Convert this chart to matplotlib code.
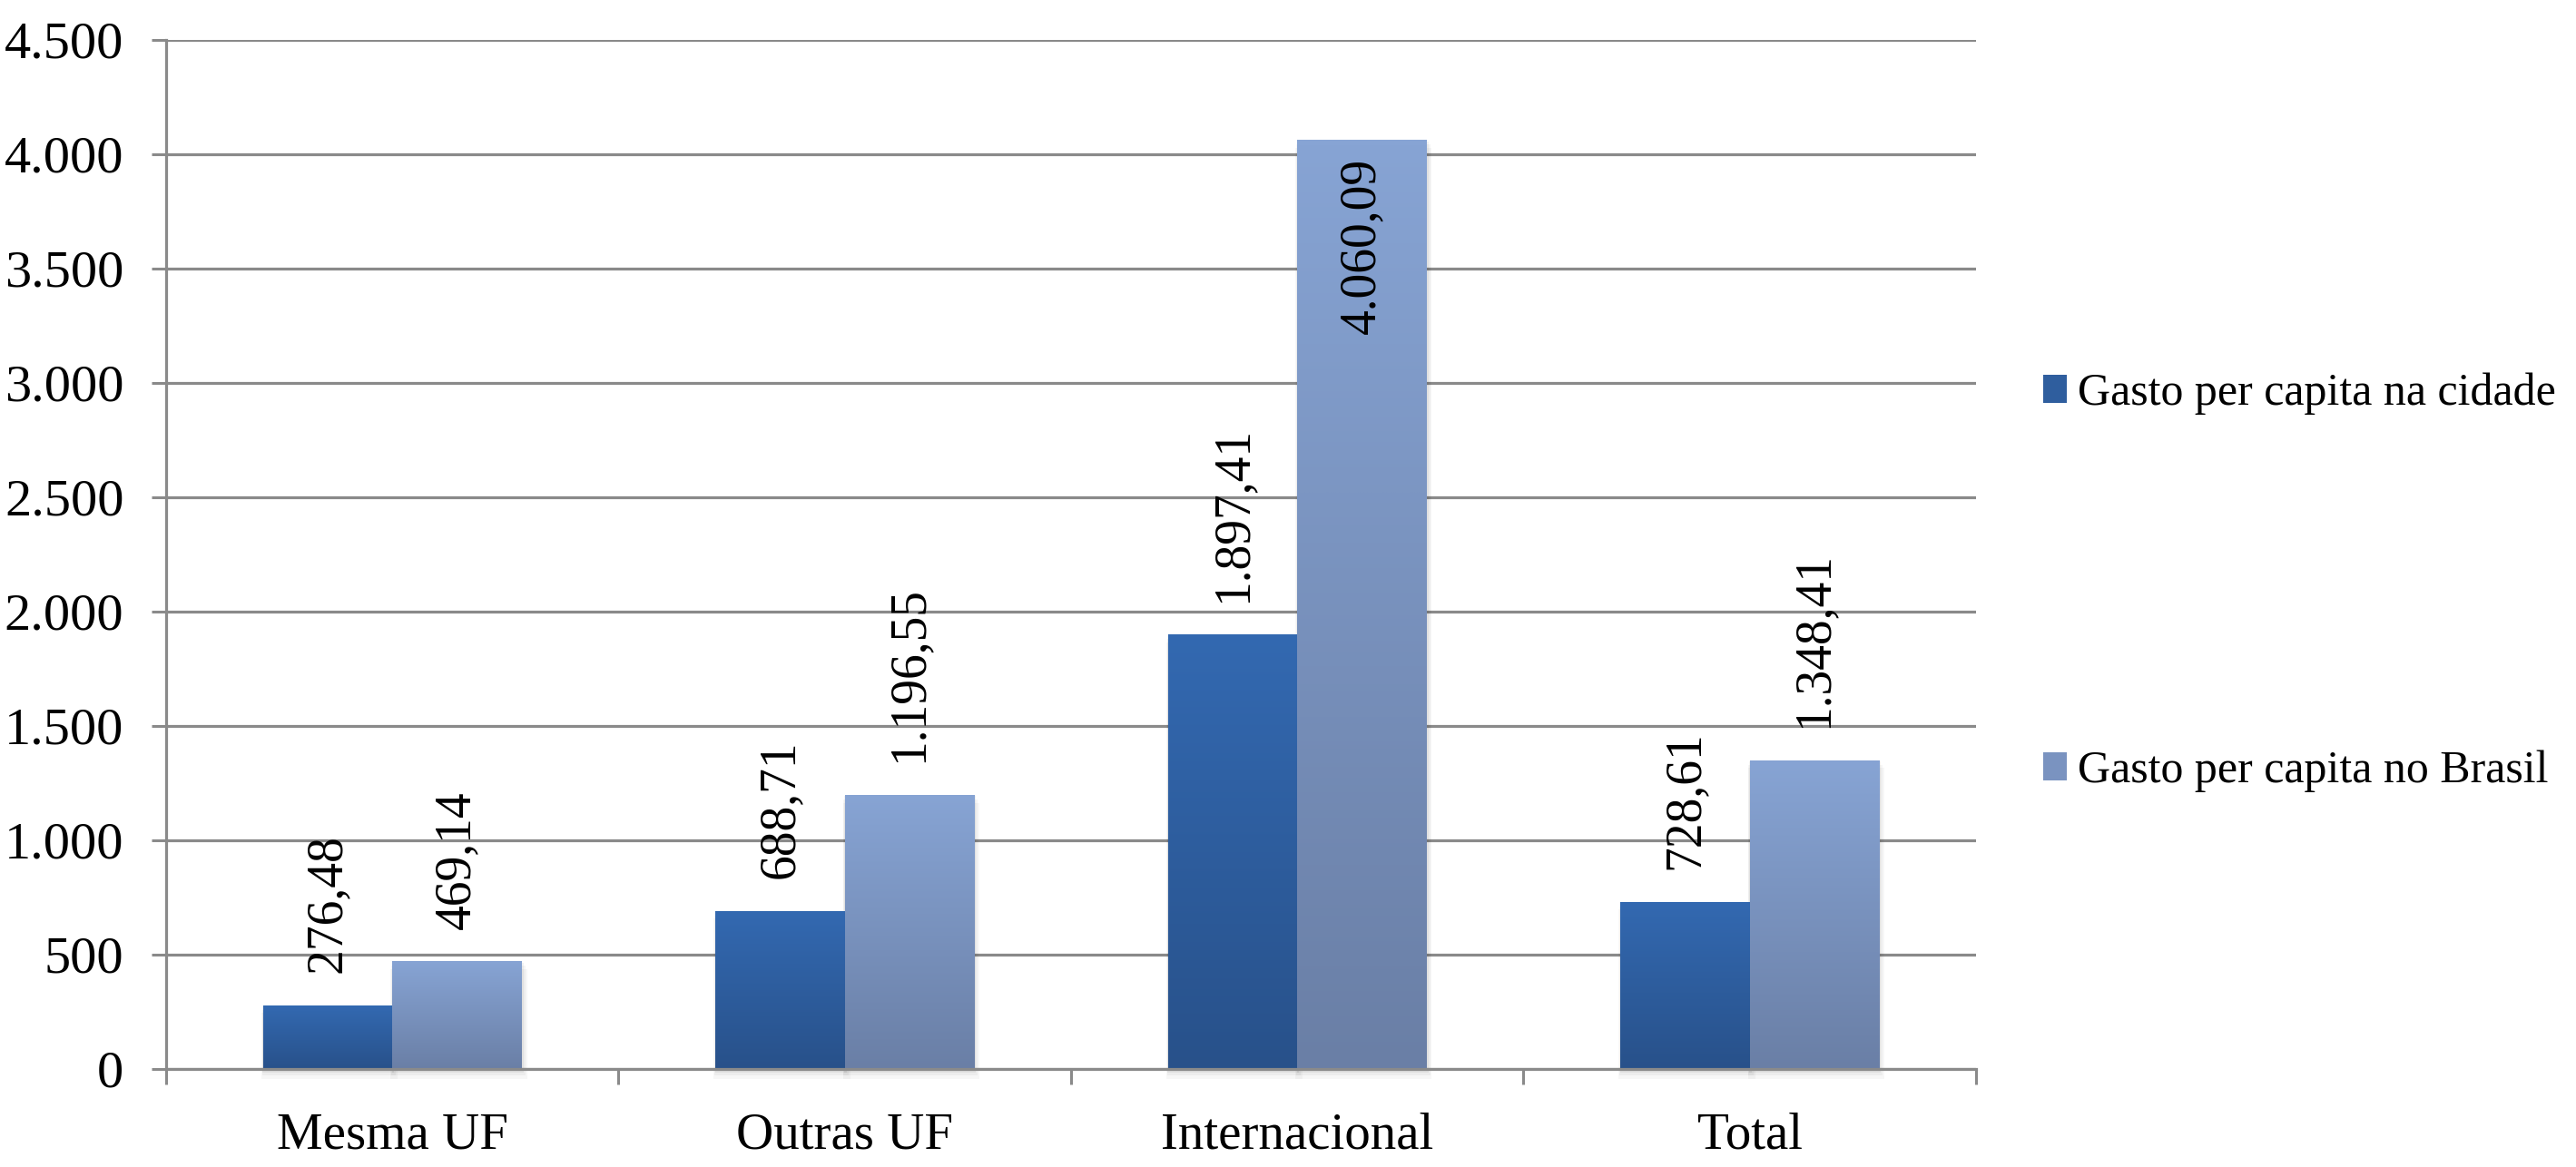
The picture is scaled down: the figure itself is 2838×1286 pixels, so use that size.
import matplotlib.pyplot as plt
import numpy as np
from matplotlib.patches import Patch, Rectangle
from matplotlib.colors import LinearSegmentedColormap

categorias = ["Mesma UF", "Outras UF", "Internacional", "Total"]
gasto_cidade = [276.48, 688.71, 1897.41, 728.61]
gasto_brasil = [469.14, 1196.55, 4060.09, 1348.41]
nomes_series = ["Gasto per capita na cidade", "Gasto per capita no Brasil"]
y_ticks = [0, 500, 1000, 1500, 2000, 2500, 3000, 3500, 4000, 4500]

COR_ESCURA = ("#3369B1", "#28518A")   # topo, base
COR_CLARA = ("#87A4D4", "#6A7FA6")
CINZA = "#8A8A8A"
LARGURA = 1.0 / 3.5
FONTE = ["Liberation Serif", "DejaVu Serif"]


def fmt_br(v, dec=2):
    s = f"{v:,.{dec}f}"
    return s.replace(",", "X").replace(".", ",").replace("X", ".")


def barra_gradiente(ax, xc, w, h, cores):
    # sombra suave
    for k, a in enumerate([0.05, 0.04, 0.03]):
        d = 0.004 * (k + 1)
        ax.add_patch(Rectangle((xc - w / 2 - d * 0.3, -14 * (k + 1)), w + d * 1.3, h + 10,
                               facecolor="black", edgecolor="none", alpha=a,
                               zorder=2, clip_on=False))
    cmap = LinearSegmentedColormap.from_list("g", [cores[1], cores[0]])
    grad = np.linspace(0, 1, 256).reshape(-1, 1)
    ax.imshow(grad, extent=[xc - w / 2, xc + w / 2, 0, h], origin="lower",
              cmap=cmap, aspect="auto", zorder=3, interpolation="bicubic")


def main():
    plt.rcParams["font.family"] = FONTE

    fig = plt.figure(figsize=(14.19, 6.43), dpi=200)
    ax = fig.add_axes([0.0645, 0.084, 0.7025, 0.8818])

    x = np.arange(len(categorias))
    ymax = 4500

    for i in x:
        for serie, cores, desloc in [(gasto_cidade, COR_ESCURA, -LARGURA / 2),
                                     (gasto_brasil, COR_CLARA, LARGURA / 2)]:
            v = serie[i]
            xc = i + desloc
            barra_gradiente(ax, xc, LARGURA, v, cores)
            if v > 0.85 * ymax:
                ax.annotate(fmt_br(v), (xc, v), xytext=(0, -7), textcoords="offset points",
                            rotation=90, ha="center", va="top", fontsize=20,
                            family=FONTE, zorder=5)
            else:
                ax.annotate(fmt_br(v), (xc, v), xytext=(0, 13), textcoords="offset points",
                            rotation=90, ha="center", va="bottom", fontsize=20,
                            family=FONTE, zorder=5)

    ax.set_xlim(-0.5, len(categorias) - 0.5)
    ax.set_ylim(0, ymax)

    ax.set_yticks(y_ticks)
    ax.set_yticklabels([fmt_br(t, 0) for t in y_ticks], fontsize=21)
    ax.set_xticks(x)
    ax.set_xticklabels(categorias, fontsize=20.5)
    ax.set_xticks(np.arange(-0.5, len(categorias)), minor=True)

    ax.tick_params(axis="y", direction="out", length=5.8, width=1.1, color=CINZA, pad=11)
    ax.tick_params(axis="x", which="major", length=0, pad=17)
    ax.tick_params(axis="x", which="minor", direction="out", length=6, width=1.1, color=CINZA)

    ax.yaxis.grid(True, color=CINZA, linewidth=1.15, zorder=0)
    ax.set_axisbelow(True)
    for lado in ["top", "right"]:
        ax.spines[lado].set_visible(False)
    for lado in ["left", "bottom"]:
        ax.spines[lado].set_color(CINZA)
        ax.spines[lado].set_linewidth(1.15)
        ax.spines[lado].set_zorder(4)

    handles = [Patch(facecolor="#2F5E9E", edgecolor="none"),
               Patch(facecolor="#7A93C0", edgecolor="none")]
    fig.legend(handles, nomes_series, loc="upper left", bbox_to_anchor=(0.793, 0.681),
               frameon=False, fontsize=18, handlelength=0.52, handleheight=0.58,
               handletextpad=0.24, labelspacing=7.4, borderpad=0, borderaxespad=0)

    fig.savefig("out.png", dpi=200)


if __name__ == "__main__":
    main()
